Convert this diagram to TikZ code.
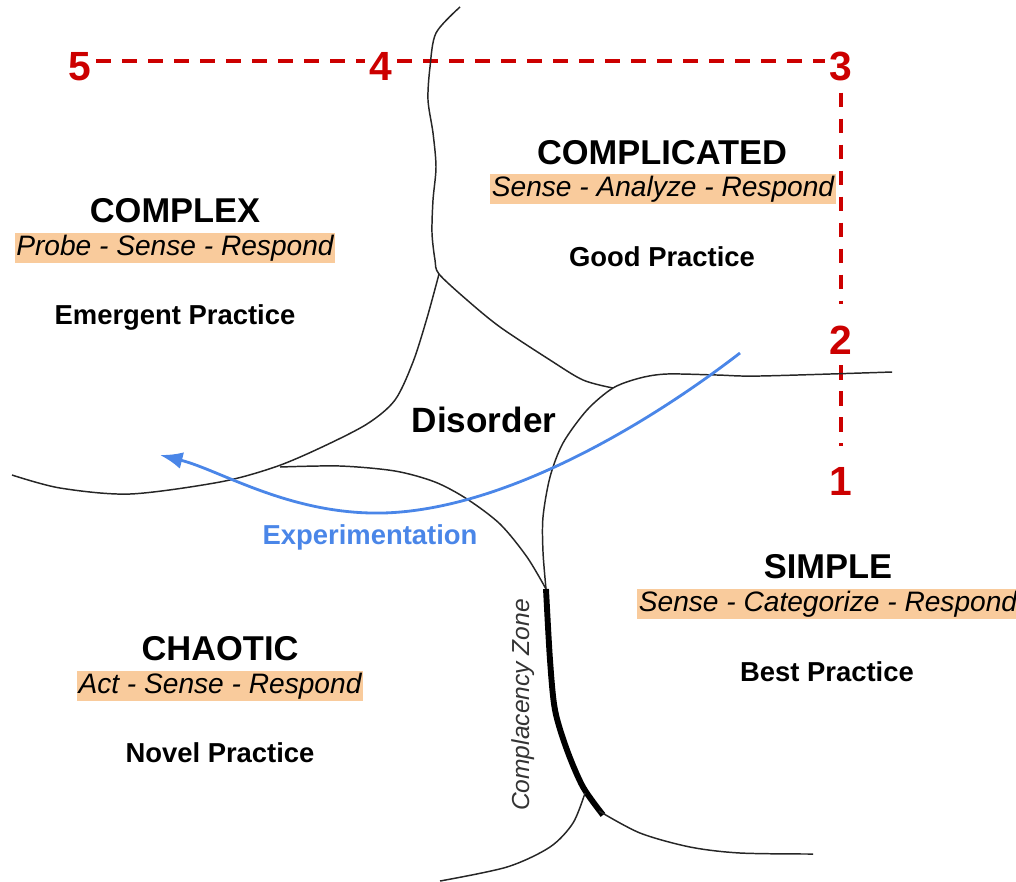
\documentclass[tikz,border=0pt]{standalone}
\usepackage{fontspec}
\setmainfont{Liberation Sans}
\usetikzlibrary{arrows.meta}
\definecolor{hilite}{HTML}{F9CB9C}
\definecolor{numred}{HTML}{CC0000}
\definecolor{expblue}{HTML}{4A86E8}
\begin{document}
\begin{tikzpicture}[x=0.25mm,y=-0.25mm]
        \tikzstyle{regiontitle}=[font=\fontsize{24.5}{29}\selectfont\bfseries,text height=17.5pt,text depth=0pt]
        \tikzstyle{method}=[font=\fontsize{20}{24}\selectfont\itshape,fill=hilite,inner xsep=1pt,inner ysep=0pt,text height=16pt,text depth=6pt]
        \tikzstyle{practice}=[font=\fontsize{19.5}{23}\selectfont\bfseries,text height=14pt,text depth=0pt]
        \tikzstyle{numlabel}=[font=\fontsize{29}{34}\selectfont\bfseries,text=numred,text height=20.8pt,text depth=0pt]
        \tikzstyle{dashline}=[draw=numred,line width=2.4pt,dash pattern=on 10.5pt off 8pt]
        \tikzstyle{boundary}=[draw=black!85,line width=1.05pt]
        \tikzstyle{zoneline}=[draw=black,line width=4.2pt]
        \tikzstyle{expline}=[draw=expblue,line width=2pt,-{Latex[length=16pt,width=12pt]}]
        \useasboundingbox (0,0) rectangle (1016,881);
       \begin{scope}
         \node [numlabel] (n5) at (80,66) {5};
         \node [numlabel] (n4) at (381,66) {4};
         \node [numlabel] (n3) at (841,66) {3};
         \node [numlabel] (n2) at (841,340) {2};
         \node [numlabel] (n1) at (841,481) {1};
         \draw[dashline] ([yshift=3.5pt]n5.east) -- ([yshift=3.5pt]n4.west);
         \draw[dashline] ([yshift=3.5pt]n4.east) -- ([yshift=3.5pt]n3.west);
         \draw[dashline,shorten <=5pt,shorten >=12pt] (n3.south) -- (n2.north);
         \draw[dashline,shorten <=4pt,shorten >=11pt] (n2.south) -- (n1.north);
        \end{scope}
       \begin{scope}
         \coordinate (jtop) at (439,274);
         \coordinate (jright) at (613,388);
         \coordinate (jzone) at (546,589);
         \coordinate (jfoot) at (585,793);
         \path[boundary] plot[smooth] coordinates {(460,7) (436,33) (430,67) (428,100) (433,133) (436,167) (433,200) (432,233) (435,260) (jtop) (467,300) (500,327) (550,360) (583,380) (jright)};
         \path[boundary] plot[smooth] coordinates {(jtop) (427,318) (413,362) (395,400) (367,424) (320,448) (275,467) (220,482) (130,494) (60,488) (12,475)};
         \path[boundary] plot[smooth] coordinates {(892,372) (760,376) (717,375) (667,374) (640,378) (jright) (587,410) (563,443) (550,477) (543,517) (543,552) (jzone)};
         \path[boundary] plot[smooth] coordinates {(280,467) (340,466) (395,471) (435,482) (467,499) (500,524) (527,557) (jzone)};
         \path[zoneline] plot[smooth] coordinates {(jzone) (550,660) (555,710) (567,750) (583,787) (603,815)};
         \path[boundary] plot[smooth] coordinates {(599,811) (640,833) (690,847) (740,853) (813,854)};
         \path[boundary] plot[smooth] coordinates {(440,881) (507,867) (550,847) (573,823) (jfoot)};
        \end{scope}
       \begin{scope}
         \node [regiontitle] (complex) at (175,210) {COMPLEX};
         \node [method] (complexm) at (175,248) {Probe - Sense - Respond};
         \node [practice] (complexp) at (175,315) {Emergent Practice};
         \node [regiontitle] (complicated) at (662,152) {COMPLICATED};
         \node [method] (complicatedm) at (663,189) {Sense - Analyze - Respond};
         \node [practice] (complicatedp) at (662,257) {Good Practice};
         \node [regiontitle] (chaotic) at (220,648) {CHAOTIC};
         \node [method] (chaoticm) at (220,686) {Act - Sense - Respond};
         \node [practice] (chaoticp) at (220,753) {Novel Practice};
         \node [regiontitle] (simple) at (828,566) {SIMPLE};
         \node [method] (simplem) at (828,604) {Sense - Categorize - Respond};
         \node [practice] (simplep) at (827,672) {Best Practice};
         \node [font=\fontsize{25}{30}\selectfont\bfseries,text height=17.9pt,text depth=0pt] (disorder) at (484,420) {Disorder};
         \node [font=\fontsize{17.5}{21}\selectfont\itshape,text=black!80,rotate=90] (zone) at (523,705) {Complacency Zone};
        \end{scope}
       \begin{scope}
         \coordinate (xstart) at (740,353);
         \coordinate (xlow) at (383,513);
         \coordinate (xend) at (160,455);
         \draw[expline] (xstart) .. controls (640,430) and (500,510) .. (xlow) .. controls (290,515) and (220,470) .. (xend);
         \node [font=\fontsize{19.5}{23}\selectfont\bfseries,text=expblue,text height=14pt,text depth=0pt] (exp) at (370,535) {Experimentation};
        \end{scope}
      \end{tikzpicture}
\end{document}
